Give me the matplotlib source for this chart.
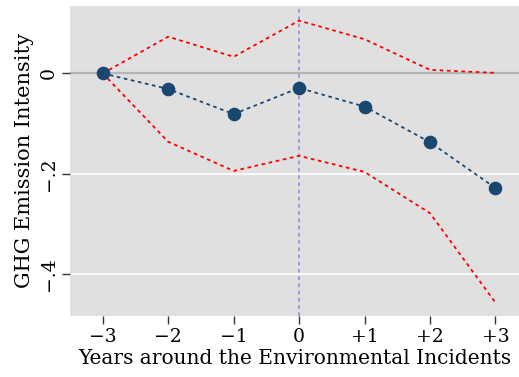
import matplotlib.pyplot as plt
import numpy as np

# event-time coefficients
years = np.array([-3, -2, -1, 0, 1, 2, 3])
year_labels = ['\u22123', '\u22122', '\u22121', '0', '+1', '+2', '+3']
coef = [0.0, -0.031, -0.081, -0.029, -0.066, -0.137, -0.228]
ci_upper = [0.0, 0.073, 0.033, 0.105, 0.068, 0.007, 0.001]
ci_lower = [0.0, -0.136, -0.194, -0.164, -0.196, -0.278, -0.456]
ytick_vals = [0, -0.2, -0.4]
ytick_labels = ['0', '\u2212.2', '\u2212.4']

plt.rcParams['font.family'] = ['DejaVu Serif']

fig = plt.figure(figsize=(5.19, 3.77), dpi=100)
ax = fig.add_axes([0.1349, 0.1626, 0.8651, 0.8214])
ax.set_facecolor('#e0e0e0')
for s in ax.spines.values():
    s.set_visible(False)

for v in ytick_vals[1:]:
    ax.axhline(v, color='white', lw=1.3, zorder=1)
ax.axhline(0, color='#b4b4b4', lw=1.6, zorder=1)
ax.axvline(0, color='#9a90dc', lw=1.3, ls=(0, (2, 2)), zorder=2)

ax.plot(years, ci_upper, color='#ff0000', lw=1.3, ls=(0, (2, 2)), zorder=3)
ax.plot(years, ci_lower, color='#ff0000', lw=1.3, ls=(0, (2, 2)), zorder=3)
ax.plot(years, coef, color='#1a476f', lw=1.3, ls=(0, (2, 2)),
        marker='o', ms=8.8, zorder=4)

ax.set_xlim(-3.5, 3.36)
ax.set_ylim(-0.482, 0.134)
ax.set_xticks(years)
ax.set_xticklabels(year_labels)
ax.set_yticks(ytick_vals)
ax.set_yticklabels(ytick_labels, rotation=90, va='center')
ax.tick_params(axis='both', labelsize=13.5, length=6, width=1, color='#333333')
ax.tick_params(axis='y', pad=3)
ax.tick_params(axis='x', pad=3)

ax.set_ylabel('GHG Emission Intensity', fontsize=15, labelpad=4)
ax.set_xlabel('Years around the Environmental Incidents', fontsize=14.5, labelpad=2)

fig.savefig('out.png', dpi=100)
